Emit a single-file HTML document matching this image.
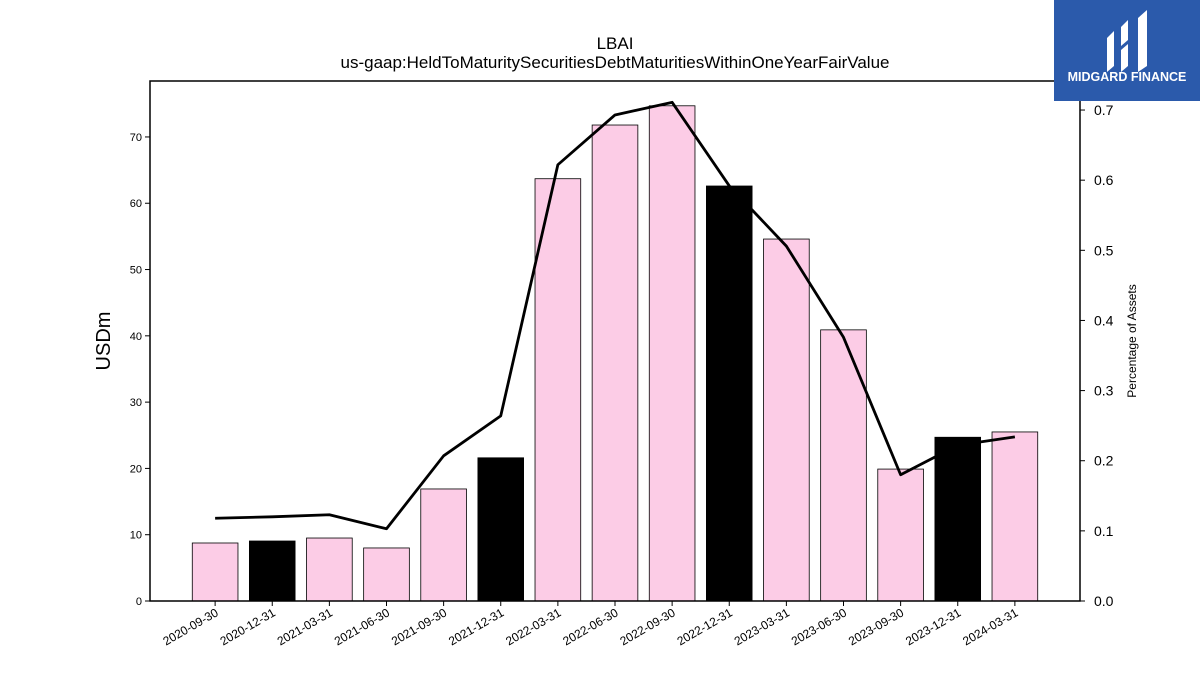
<!DOCTYPE html>
<html><head><meta charset="utf-8"><style>
body{margin:0;background:#fff;font-family:"Liberation Sans","DejaVu Sans",sans-serif}
#wrap{position:relative;width:1200px;height:675px;overflow:hidden}
</style></head><body>
<div id="wrap">
<svg id="chart" width="1200" height="675" style="position:absolute;left:0;top:0"></svg>
<div style="position:absolute;left:1054px;top:0;width:146px;height:101px;background:#2b5aab">
<svg width="146" height="101">
<path d="M53 38 L60 31 L60 66 L53 72 Z" fill="#fff"/>
<path d="M67 27 L74 20 L74 40 L67 46 Z" fill="#fff"/>
<path d="M67 50 L74 44 L74 66 L67 72 Z" fill="#fff"/>
<path d="M84 18 L93 10 L93 66 L84 72 Z" fill="#fff"/>
<text x="73" y="81" text-anchor="middle" fill="#fff" font-size="12.5" font-weight="bold">MIDGARD FINANCE</text>
</svg></div>
</div>
<script>
const categories=["2020-09-30","2020-12-31","2021-03-31","2021-06-30","2021-09-30","2021-12-31","2022-03-31","2022-06-30","2022-09-30","2022-12-31","2023-03-31","2023-06-30","2023-09-30","2023-12-31","2024-03-31"];
const barValues=[8.75,9.05,9.5,8.0,16.9,21.6,63.7,71.8,74.7,62.6,54.6,40.9,19.9,24.7,25.5];
const pctValues=[0.118,0.120,0.123,0.103,0.207,0.264,0.622,0.693,0.711,0.592,0.506,0.376,0.180,0.222,0.234];
const highlight=[false,true,false,false,false,true,false,false,false,true,false,false,false,true,false];
const leftTicks=[0,10,20,30,40,50,60,70];
const rightTicks=[0.0,0.1,0.2,0.3,0.4,0.5,0.6,0.7];

const L=150,R=1080,T=81,B=601;
const step=(R-L)/(categories.length-1+2.28);
const xs=i=>L+(i+1.14)*step;
const yl=v=>B-v*(B-T)/78.44;
const yr=v=>B-v*(B-T)/0.7414;
const svg=document.getElementById('chart');
const NS='http://www.w3.org/2000/svg';
function mk(t,a,p){const e=document.createElementNS(NS,t);for(const k in a)e.setAttribute(k,a[k]);(p||svg).appendChild(e);return e;}

categories.forEach((c,i)=>{
 const w=step*0.8;
 const r=mk('rect',{x:xs(i)-w/2,y:yl(barValues[i]),width:w,height:B-yl(barValues[i]),fill:highlight[i]?'#000':'#fccce6',stroke:'#000','stroke-width':0.8});
 
 
 mk('line',{x1:xs(i),x2:xs(i),y1:B,y2:B+5,stroke:'#000'});
 const t=mk('text',{x:xs(i)+4,y:B+14,'font-size':12,'text-anchor':'end',transform:`rotate(-30 ${xs(i)+4} ${B+14})`});
 t.textContent=c;
 
 
});
const pts=pctValues.map((v,i)=>xs(i)+','+yr(v)).join(' ');
const ln=mk('polyline',{points:pts,fill:'none',stroke:'#000','stroke-width':2.8,'stroke-linejoin':'round'});



const frame=mk('rect',{x:L,y:T,width:R-L,height:B-T,fill:'none',stroke:'#000','stroke-width':1.5});



leftTicks.forEach(v=>{
 mk('line',{x1:L-5,x2:L,y1:yl(v),y2:yl(v),stroke:'#000'});
 const t=mk('text',{x:L-8,y:yl(v)+4,'font-size':11,'text-anchor':'end'});
 t.textContent=v;
 
 
});
rightTicks.forEach(v=>{
 mk('line',{x1:R,x2:R+5,y1:yr(v),y2:yr(v),stroke:'#000'});
 const t=mk('text',{x:R+14,y:yr(v)+5,'font-size':14});
 t.textContent=v.toFixed(1);
 
 
});
function label(txt,attrs,name){const t=mk('text',attrs);t.textContent=txt;}
label('USDm',{x:110,y:341,'font-size':20,'text-anchor':'middle',transform:'rotate(-90 110 341)'},'y-left-axis-title');
label('Percentage of Assets',{x:1136,y:341,'font-size':12,'text-anchor':'middle',transform:'rotate(-90 1136 341)'},'y-right-axis-title');
label('LBAI',{x:615,y:49,'font-size':17,'text-anchor':'middle'},'chart-title');
label('us-gaap:HeldToMaturitySecuritiesDebtMaturitiesWithinOneYearFairValue',{x:615,y:68,'font-size':17,'text-anchor':'middle'},'chart-subtitle');
</script>
</body></html>
